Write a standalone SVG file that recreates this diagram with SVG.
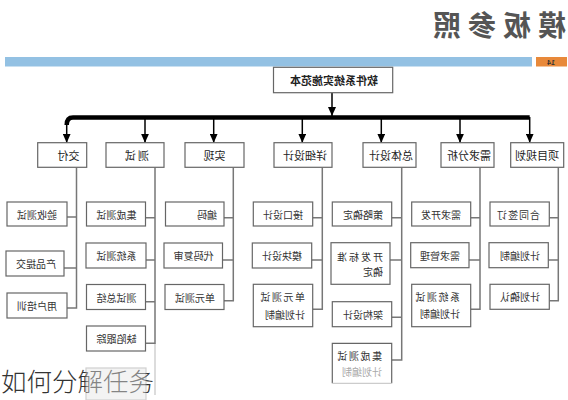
<svg xmlns="http://www.w3.org/2000/svg" width="568" height="400" viewBox="0 0 568 400">
<style>
.box{fill:#fff;stroke:#666;stroke-width:1.2}
.ln{fill:none;stroke:#777;stroke-width:1.5}
.ar{fill:none;stroke:#000;stroke-width:1.5}
.t{font-family:"Noto Sans CJK SC","Noto Sans",sans-serif;font-size:10px;fill:#333;dominant-baseline:central}
.tt{font-family:"Noto Sans CJK SC","Noto Sans",sans-serif;font-size:11px;fill:#222;dominant-baseline:central;text-anchor:middle}
</style>
<defs>
<marker id="ah" markerUnits="userSpaceOnUse" markerWidth="9" markerHeight="8" refX="9" refY="4" viewBox="0 0 9 8" orient="auto"><path d="M0,0 L9,4 L0,8 z" fill="#000"/></marker>
</defs>
<rect width="568" height="400" fill="#fff"/>
<g id="header">
<text transform="translate(566,24) scale(-1,1)" font-family="'Noto Sans CJK SC',sans-serif" font-size="28" font-weight="600" letter-spacing="7" fill="#555" dominant-baseline="central">模板参照</text>
<rect x="5" y="57" width="527" height="9.5" fill="#93c1e3"/>
<rect x="536" y="57" width="31" height="9.5" fill="#e8893a"/>
<text transform="translate(551,62) scale(-1,1)" font-family="'Liberation Sans',sans-serif" font-size="7" font-weight="700" fill="#333" text-anchor="middle" dominant-baseline="central">14</text>
</g>
<g id="connectors">
<line class="ar" x1="332" y1="92.7" x2="332" y2="116" marker-end="url(#ah)"/>
<path d="M66.7,125 Q66.7,117.5 73,117.5 H529.7" fill="none" stroke="#000" stroke-width="4.5"/>
<line class="ar" x1="66.7" y1="124" x2="66.7" y2="142.7" marker-end="url(#ah)"/>
<line class="ar" x1="145" y1="118" x2="145" y2="142.7" marker-end="url(#ah)"/>
<line class="ar" x1="213.7" y1="118" x2="213.7" y2="142.7" marker-end="url(#ah)"/>
<line class="ar" x1="302.3" y1="118" x2="302.3" y2="142.7" marker-end="url(#ah)"/>
<line class="ar" x1="381.3" y1="118" x2="381.3" y2="142.7" marker-end="url(#ah)"/>
<line class="ar" x1="460" y1="118" x2="460" y2="142.7" marker-end="url(#ah)"/>
<line class="ar" x1="529.7" y1="117" x2="529.7" y2="142.7" marker-end="url(#ah)"/>
<path class="ln" d="M76.5,167.5 V308 H67 M67,217 H76.5 M64,268 H76.5"/>
<path class="ln" d="M155,167.5 V343.3 H145.5 M145.5,217.7 H155 M146,260 H155 M145.5,301.7 H155"/>
<path class="ln" d="M155,343.3 V395" opacity="0.35"/>
<path class="ln" d="M233.3,167.5 V300.7 H224 M224,217.7 H233.3 M222.5,260 H233.3"/>
<path class="ln" d="M322.3,167.5 V309.3 H312.7 M312.7,217.7 H322.3 M311.7,260 H322.3"/>
<path class="ln" d="M401.7,167.5 V360 H391.7 M391.7,217.7 H401.7 M390,260 H401.7 M391.7,317.3 H401.7"/>
<path class="ln" d="M480,167.5 V309.3 H470.7 M470.7,217.7 H480 M469,260 H480"/>
<path class="ln" d="M558.3,167.5 V300.7 H549.3 M549.3,217.7 H558.3 M548.3,260 H558.3"/>
</g>
<g id="root"><rect class="box" x="273.5" y="67.3" width="119.2" height="25.4"/><text class="tt" font-weight="700" font-size="10.5" transform="translate(334,80) scale(-1,1)">软件系统实施范本</text></g>
<g id="n-jiaofu"><rect class="box" x="37.7" y="142.7" width="49" height="24.6"/><text class="tt" transform="translate(68.5,155) scale(-1,1)">交付</text></g>
<g id="n-ceshi"><rect class="box" x="106" y="142.7" width="58" height="24.6"/><text class="tt" letter-spacing="2" transform="translate(136,155) scale(-1,1)">测试</text></g>
<g id="n-shixian"><rect class="box" x="185" y="142.7" width="59" height="24.6"/><text class="tt" transform="translate(214.5,155) scale(-1,1)">实现</text></g>
<g id="n-xxsj"><rect class="box" x="274" y="142.7" width="58" height="24.6"/><text class="tt" transform="translate(305,155) scale(-1,1)">详细设计</text></g>
<g id="n-ztsj"><rect class="box" x="363" y="142.7" width="53" height="24.6"/><text class="tt" transform="translate(391,155) scale(-1,1)">总体设计</text></g>
<g id="n-xqfx"><rect class="box" x="441" y="142.7" width="53" height="24.6"/><text class="tt" transform="translate(469,155) scale(-1,1)">需求分析</text></g>
<g id="n-xmgh"><rect class="box" x="510.7" y="142.7" width="53" height="24.6"/><text class="tt" transform="translate(537,155) scale(-1,1)">项目规划</text></g>

<g id="c1a"><rect class="box" x="7" y="202" width="60" height="24"/><text class="t" transform="translate(57,214) scale(-1,1)">验收测试</text></g>
<g id="c1b"><rect class="box" x="6" y="251" width="58" height="25"/><text class="t" transform="translate(56,263.5) scale(-1,1)">产品提交</text></g>
<g id="c1c"><rect class="box" x="7" y="293" width="60" height="25"/><text class="t" transform="translate(57,305.5) scale(-1,1)">用户培训</text></g>

<g id="c2a"><rect class="box" x="86.5" y="202" width="59" height="24"/><text class="t" transform="translate(136.5,214) scale(-1,1)">集成测试</text></g>
<g id="c2b"><rect class="box" x="86" y="243" width="60" height="25"/><text class="t" transform="translate(136.5,255.5) scale(-1,1)">系统测试</text></g>
<g id="c2c"><rect class="box" x="86.5" y="284.5" width="59" height="25"/><text class="t" transform="translate(136.5,297) scale(-1,1)">测试总结</text></g>
<g id="c2d"><rect class="box" x="86.5" y="326" width="59" height="25"/><text class="t" transform="translate(136.5,338.5) scale(-1,1)">缺陷跟踪</text></g>

<g id="c3a"><rect class="box" x="165.5" y="202" width="58.5" height="24"/><text class="t" transform="translate(217,214) scale(-1,1)">编码</text></g>
<g id="c3b"><rect class="box" x="164" y="243" width="58.5" height="25"/><text class="t" transform="translate(213.5,255.5) scale(-1,1)">代码复审</text></g>
<g id="c3c"><rect class="box" x="165" y="284.5" width="59" height="25"/><text class="t" transform="translate(215,297) scale(-1,1)">单元测试</text></g>

<g id="c4a"><rect class="box" x="253.3" y="202" width="59.4" height="24"/><text class="t" transform="translate(303,214) scale(-1,1)">接口设计</text></g>
<g id="c4b"><rect class="box" x="252.3" y="243" width="59.4" height="25"/><text class="t" transform="translate(302,255.5) scale(-1,1)">模块设计</text></g>
<g id="c4c"><rect class="box" x="253.3" y="284.3" width="59.4" height="42.4"/><text class="t" letter-spacing="1.5" transform="translate(305,296.7) scale(-1,1)">单元测试</text><text class="t" transform="translate(305,314.3) scale(-1,1)">计划编制</text></g>

<g id="c5a"><rect class="box" x="332.3" y="202" width="59.4" height="24"/><text class="t" transform="translate(383,214) scale(-1,1)">策略确定</text></g>
<g id="c5b"><rect class="box" x="331" y="242.7" width="59" height="41.6"/><text class="t" letter-spacing="2" transform="translate(383,256) scale(-1,1)">开发标准</text><text class="t" transform="translate(383,271.7) scale(-1,1)">确定</text></g>
<g id="c5c"><rect class="box" x="332.3" y="301.7" width="59.4" height="25"/><text class="t" transform="translate(383,314.2) scale(-1,1)">架构设计</text></g>

<g id="c6a"><rect class="box" x="411.7" y="202" width="59" height="24"/><text class="t" transform="translate(461,214) scale(-1,1)">需求开发</text></g>
<g id="c6b"><rect class="box" x="410.7" y="242.7" width="58.3" height="25"/><text class="t" transform="translate(460,255.2) scale(-1,1)">需求管理</text></g>
<g id="c6c"><rect class="box" x="411.7" y="284.3" width="59" height="42.4"/><text class="t" letter-spacing="1.5" transform="translate(460,296.7) scale(-1,1)">系统测试</text><text class="t" transform="translate(460,313.3) scale(-1,1)">计划编制</text></g>

<g id="c7a"><rect class="box" x="490" y="202" width="59.3" height="24"/><text class="t" letter-spacing="1" transform="translate(540,214) scale(-1,1)">合同签订</text></g>
<g id="c7b"><rect class="box" x="489" y="242.7" width="59.3" height="25"/><text class="t" transform="translate(540,255.2) scale(-1,1)">计划编制</text></g>
<g id="c7c"><rect class="box" x="490" y="284.3" width="59.3" height="25"/><text class="t" transform="translate(540,296.8) scale(-1,1)">计划确认</text></g>

<g id="caption"><text x="1" y="391" font-family="'Noto Sans CJK SC',sans-serif" font-size="25.5" font-weight="300" fill="#333">如何分解任务</text></g>

<g id="c2e" opacity="0.45"><rect x="86" y="368" width="60" height="32" fill="#e6e6e6" stroke="#999" stroke-width="1.2"/></g>
<g id="c5d"><path d="M332.3,383.3 V343.3 H391.7 V383.3" fill="#fff" stroke="#666" stroke-width="1.2"/><path d="M332.3,383.3 H391.7" stroke="#ccc" stroke-width="1.2"/><text class="t" letter-spacing="1.5" transform="translate(382,355) scale(-1,1)">集成测试</text><text class="t" transform="translate(382,371.7) scale(-1,1)" style="fill:#aaa">计划编制</text></g>
</svg>
